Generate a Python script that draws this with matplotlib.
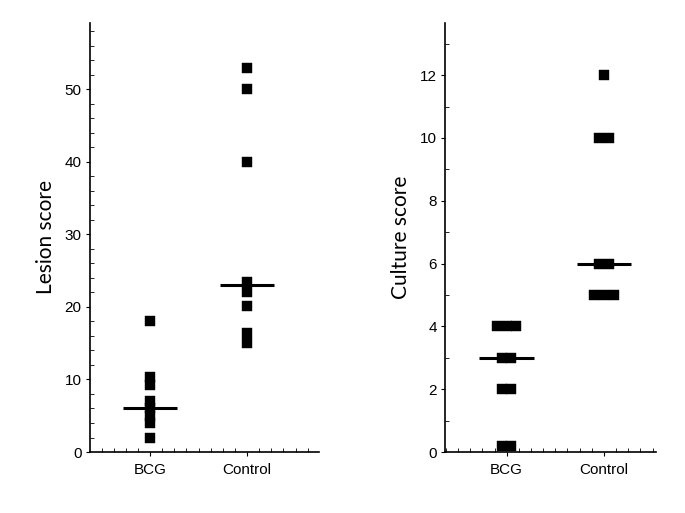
import numpy as np
import matplotlib
matplotlib.use("Agg")
import matplotlib.pyplot as plt
from matplotlib.ticker import MultipleLocator

groups = ["BCG", "Control"]

# lesion scores per animal
lesion_bcg = [2, 4, 5, 6, 7, 9.2, 10.4, 18]
lesion_control = [15, 16.4, 20.2, 22, 23.5, 40, 50, 53]
lesion_medians = [6, 23]

# culture scores per animal (0 sits just on the axis in the original)
culture_bcg = [0.2, 0.2, 2, 2, 3, 3, 4, 4, 4]
culture_control = [5, 5, 5, 6, 6, 10, 10, 12]
culture_medians = [3, 6]

plt.rcParams['font.family'] = ['Liberation Sans', 'DejaVu Sans']

fig = plt.figure(figsize=(6.85, 5.13), dpi=100)
ax1 = fig.add_axes([0.1314, 0.1189, 0.3343, 0.8368])
ax2 = fig.add_axes([0.6496, 0.1189, 0.3080, 0.8357])


def dot_plot(ax, data, medians, ylabel):
    for i, vals in enumerate(data):
        vals = np.asarray(vals, dtype=float)
        xs = np.zeros(len(vals))
        # spread identical values side by side
        for v in np.unique(vals):
            idx = np.where(vals == v)[0]
            n = len(idx)
            xs[idx] = (np.arange(n) - (n - 1) / 2) * 0.098
        ax.plot(i + 1 + xs, vals, 's', color='black', markersize=7.5,
                markeredgewidth=0.3, markeredgecolor='black',
                clip_on=False, zorder=3)
        ax.plot([i + 1 - 0.28, i + 1 + 0.28], [medians[i], medians[i]],
                color='black', linewidth=2.2, solid_capstyle='butt', zorder=4)
    ax.spines['top'].set_visible(False)
    ax.spines['right'].set_visible(False)
    ax.spines['left'].set_linewidth(1.2)
    ax.spines['bottom'].set_linewidth(1.2)
    ax.set_xticks([1, 2])
    ax.set_xticklabels(groups, fontsize=11)
    ax.xaxis.set_minor_locator(MultipleLocator(0.125))
    ax.tick_params(axis='both', which='major', direction='out', length=3,
                   width=0.8, labelsize=11, pad=3)
    ax.tick_params(axis='both', which='minor', direction='in', length=3,
                   width=0.6)
    ax.tick_params(axis='x', which='major', pad=5)
    ax.set_ylabel(ylabel, family=['Lato', 'DejaVu Sans'], fontsize=15,
                  labelpad=6)


dot_plot(ax1, [lesion_bcg, lesion_control], lesion_medians, "Lesion score")
ax1.set_xlim(0.381, 2.742)
ax1.set_ylim(0, 59.2)
ax1.set_yticks([0, 10, 20, 30, 40, 50])
ax1.yaxis.set_minor_locator(MultipleLocator(2))

dot_plot(ax2, [culture_bcg, culture_control], culture_medians, "Culture score")
ax2.set_xlim(0.366, 2.534)
ax2.set_ylim(0, 13.65)
ax2.set_yticks([0, 2, 4, 6, 8, 10, 12])
ax2.yaxis.set_minor_locator(MultipleLocator(1))

fig.savefig("out.png", dpi=100)
